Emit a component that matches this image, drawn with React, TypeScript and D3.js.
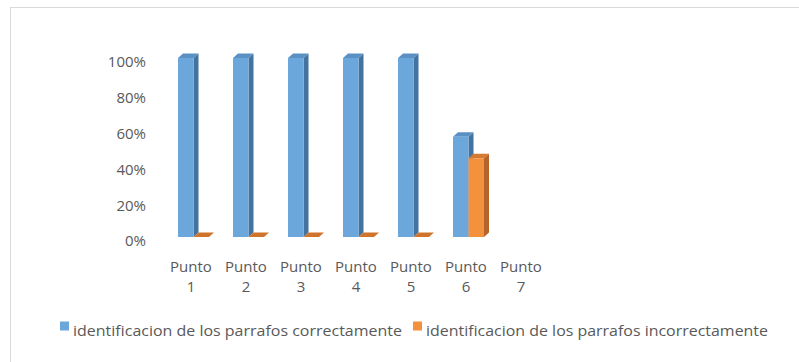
import React from "react";
import * as d3 from "d3";

// Share of paragraphs identified per point
const categories = ["Punto 1", "Punto 2", "Punto 3", "Punto 4", "Punto 5", "Punto 6", "Punto 7"];
const correctas: (number | null)[] = [1, 1, 1, 1, 1, 0.56, null];
const incorrectas: (number | null)[] = [0, 0, 0, 0, 0, 0.44, null];
const yTicks = [0, 0.2, 0.4, 0.6, 0.8, 1];
const seriesNames = [
  "identificacion de los parrafos correctamente",
  "identificacion de los parrafos incorrectamente",
];

const W = 799;
const H = 362;
const FONT = "'Open Sans', 'Noto Sans', sans-serif";
const TEXT = "#595959";

// 3D depth offset of the bars
const DX = 5;
const DY = -4.5;

const palettes = [
  { front: "#6ca7db", side: "#43739f", top: "#5b90c3", flat: "#4f82b3" },
  { front: "#f4913d", side: "#b3652a", top: "#d57a31", flat: "#d0742d" },
];

function Bar3D({ x0, w, yTop, yBot, pal }: { x0: number; w: number; yTop: number; yBot: number; pal: any }) {
  const x1 = x0 + w;
  const topPts = [
    [x0, yTop],
    [x0 + DX, yTop + DY],
    [x1 + DX, yTop + DY],
    [x1, yTop],
  ];
  if (yBot - yTop < 0.5) {
    return <polygon points={topPts.map((p) => p.join(",")).join(" ")} fill={pal.flat} />;
  }
  const sidePts = [
    [x1, yTop],
    [x1 + DX, yTop + DY],
    [x1 + DX, yBot + DY],
    [x1, yBot],
  ];
  return (
    <g>
      <polygon points={sidePts.map((p) => p.join(",")).join(" ")} fill={pal.side} />
      <polygon points={topPts.map((p) => p.join(",")).join(" ")} fill={pal.top} />
      <rect x={x0} y={yTop} width={w} height={yBot - yTop} fill={pal.front} />
    </g>
  );
}

export default function App() {
  const x = d3.scaleBand<string>().domain(categories).range([162.5, 547.5]).paddingInner(0).paddingOuter(0);
  // front faces of the bars
  const y = d3.scaleLinear().domain([0, 1]).range([237, 58]);
  // tick labels sit on the back wall, slightly lower than the front floor
  const yLabel = (v: number) => y(v) + 4;
  const barW = 15.5;
  const offsets = [15.5, 31];
  const series = [correctas, incorrectas];

  return (
    <svg
      width={W}
      height={H}
      style={{ position: "fixed", left: 0, top: 0, background: "#ffffff" }}
      fontFamily={FONT}
    >
      <rect x={0} y={0} width={W} height={H} fill="#ffffff" />
      <rect x={10.5} y={7.5} width={W} height={H} fill="none" stroke="#d9d9d9" strokeWidth={1} />

      {/* value axis labels */}
      {yTicks.map((t) => (
        <text
          key={t}
          x={146}
          y={yLabel(t)}
          dy="0.36em"
          textAnchor="end"
          fontSize={15}
          fill={TEXT}
        >
          {d3.format(".0%")(t)}
        </text>
      ))}

      {/* bars */}
      {series.map((vals, si) =>
        categories.map((c, ci) => {
          const v = vals[ci];
          if (v === null || v === undefined) return null;
          const x0 = (x(c) as number) + offsets[si];
          return <Bar3D key={`${si}-${c}`} x0={x0} w={barW} yTop={y(v)} yBot={y(0)} pal={palettes[si]} />;
        })
      )}

      {/* category labels */}
      {categories.map((c) => {
        const cx = (x(c) as number) + x.bandwidth() / 2 + 1;
        const [word, num] = c.split(" ");
        return (
          <text key={c} x={cx} textAnchor="middle" fontSize={15} fill={TEXT}>
            <tspan x={cx} y={271.5}>{word}</tspan>
            <tspan x={cx} y={291.5}>{num}</tspan>
          </text>
        );
      })}

      {/* legend */}
      <rect x={60} y={321.5} width={9} height={9} fill={palettes[0].front} />
      <text x={73} y={335.5} fontSize={15} fill={TEXT} textLength={329} lengthAdjust="spacingAndGlyphs">
        {seriesNames[0]}
      </text>
      <rect x={413} y={321.5} width={9} height={9} fill={palettes[1].front} />
      <text x={426} y={335.5} fontSize={15} fill={TEXT} textLength={342} lengthAdjust="spacingAndGlyphs">
        {seriesNames[1]}
      </text>
    </svg>
  );
}
